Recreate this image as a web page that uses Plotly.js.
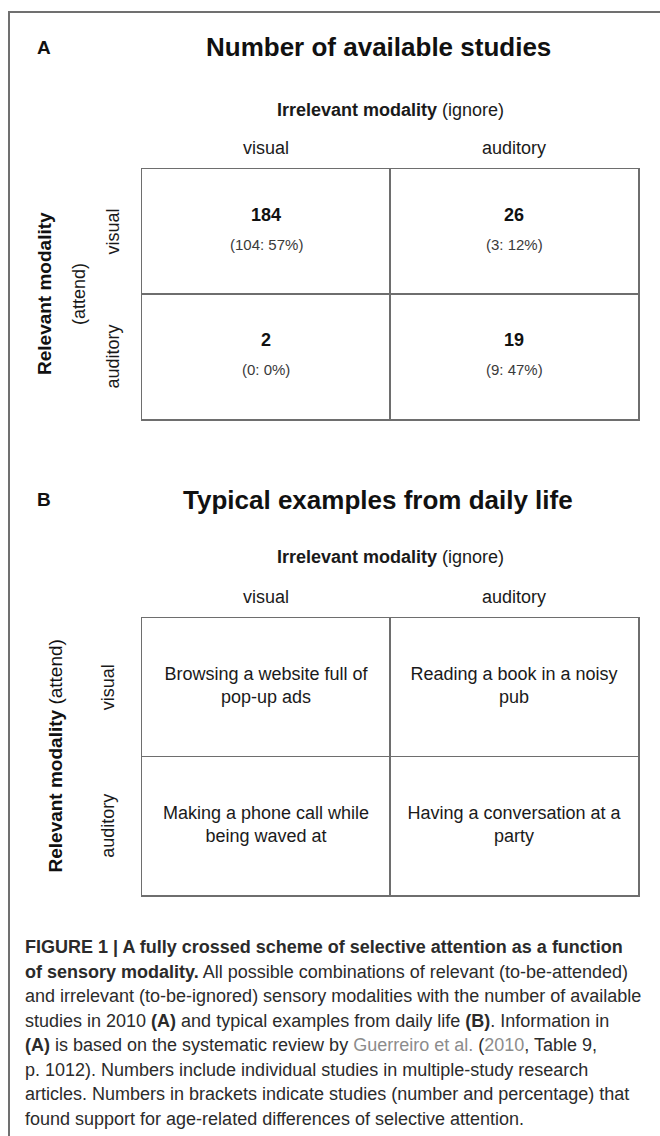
<!DOCTYPE html>
<html>
<head>
<meta charset="utf-8">
<script src="https://cdn.plot.ly/plotly-3.0.1.min.js"></script>
<style>html,body{margin:0;padding:0;background:#fff;}#chart{width:660px;height:1136px;}</style>
</head>
<body>
<div id="chart"></div>
<script>
// ---- data ----
const panelLabels = ['A', 'B'];
const panelTitles = ['Number of available studies', 'Typical examples from daily life'];
const columnAxisTitle = '<b>Irrelevant modality</b> (ignore)';
const rowAxisTitleBold = '<b>Relevant modality</b>';
const rowAxisTitleNote = '(attend)';
const modalities = ['visual', 'auditory'];           // column and row categories
const studyCounts = [[184, 26], [2, 19]];            // rows: relevant; cols: irrelevant
const supportCounts = [[104, 3], [0, 9]];
const supportPercent = [[57, 12], [0, 47]];
const dailyExamples = [
  ['Browsing a website full of<br>pop-up ads', 'Reading a book in a noisy<br>pub'],
  ['Making a phone call while<br>being waved at', 'Having a conversation at a<br>party']
];
const captionLines = [
  '<b>FIGURE 1 | A fully crossed scheme of selective attention as a function</b>',
  '<b>of sensory modality.</b> All possible combinations of relevant (to-be-attended)',
  'and irrelevant (to-be-ignored) sensory modalities with the number of available',
  'studies in 2010 <b>(A)</b> and typical examples from daily life <b>(B)</b>. Information in',
  '<b>(A)</b> is based on the systematic review by <span style="color:#8c8c8c">Guerreiro et al.</span> (<span style="color:#8c8c8c">2010</span>, Table 9,',
  'p. 1012). Numbers include individual studies in multiple-study research',
  'articles. Numbers in brackets indicate studies (number and percentage) that',
  'found support for age-related differences of selective attention.'
];

// ---- layout helpers ----
const W = 660, H = 1136;
const FONT = 'Liberation Sans, Arial, Helvetica, sans-serif';
const px = x => x / W;
const py = y => 1 - y / H;
const LINE = '#6e6e6e';

const panels = [
  {top: 169, bottom: 419, titleY: 47, irrY: 110, colY: 148, rmX: [45, 79], rowX: 113, twoLine: true},
  {top: 618, bottom: 895, titleY: 500, irrY: 557, colY: 597, rmX: [55], rowX: 108, twoLine: false}
];
const tableLeft = 142, tableRight = 638;

const layout = {
  width: W, height: H,
  margin: {l: 0, r: 0, t: 0, b: 0},
  paper_bgcolor: '#fff', plot_bgcolor: '#fff',
  showlegend: false,
  font: {family: FONT, color: '#1a1a1a', size: 18},
  annotations: [],
  shapes: [
    {type: 'path', xref: 'paper', yref: 'paper',
     path: `M ${px(9)} 0 L ${px(9)} ${py(12)} L 1 ${py(12)}`,
     line: {color: '#707070', width: 2}}
  ]
};

const data = [];

panels.forEach((p, i) => {
  const xa = i === 0 ? 'xaxis' : 'xaxis2';
  const ya = i === 0 ? 'yaxis' : 'yaxis2';
  const xr = i === 0 ? 'x' : 'x2';
  const yr = i === 0 ? 'y' : 'y2';
  const axCommon = {
    range: [0, 2], fixedrange: true,
    tickvals: [1], showticklabels: false, ticks: '',
    showgrid: true, gridcolor: LINE, gridwidth: 1.5,
    showline: true, mirror: true, linecolor: LINE, linewidth: 1.5,
    zeroline: false
  };
  layout[xa] = Object.assign({}, axCommon, {domain: [px(tableLeft), px(tableRight)], anchor: yr});
  layout[ya] = Object.assign({}, axCommon, {domain: [py(p.bottom), py(p.top)], anchor: xr, range: [2, 0]});

  // panel letter and title
  layout.annotations.push({xref: 'paper', yref: 'paper', x: px(44), y: py(p.titleY), text: '<b>' + panelLabels[i] + '</b>',
    showarrow: false, xanchor: 'center', yanchor: 'middle', font: {size: 19, color: '#111'}});
  layout.annotations.push({xref: 'paper', yref: 'paper', x: px(378), y: py(p.titleY), text: '<b>' + panelTitles[i] + '</b>',
    showarrow: false, xanchor: 'center', yanchor: 'middle', font: {size: 26, color: '#111'}});
  // column axis title
  layout.annotations.push({xref: 'paper', yref: 'paper', x: px(390), y: py(p.irrY), text: columnAxisTitle,
    showarrow: false, xanchor: 'center', yanchor: 'middle', font: {size: 18, color: '#1a1a1a'}});
  // column headers
  modalities.forEach((m, c) => {
    layout.annotations.push({xref: xr, yref: 'paper', x: c + 0.5, y: py(p.colY), text: m,
      showarrow: false, xanchor: 'center', yanchor: 'middle', font: {size: 18, color: '#1a1a1a'}});
  });
  // row headers
  modalities.forEach((m, r) => {
    layout.annotations.push({xref: 'paper', yref: yr, x: px(p.rowX), y: r + 0.5, text: m, textangle: -90,
      showarrow: false, xanchor: 'center', yanchor: 'middle', font: {size: 18, color: '#1a1a1a'}});
  });
  // row axis title
  if (p.twoLine) {
    layout.annotations.push({xref: 'paper', yref: yr, x: px(p.rmX[0]), y: 1, text: rowAxisTitleBold, textangle: -90,
      showarrow: false, xanchor: 'center', yanchor: 'middle', font: {size: 19, color: '#111'}});
    layout.annotations.push({xref: 'paper', yref: yr, x: px(p.rmX[1]), y: 1, text: rowAxisTitleNote, textangle: -90,
      showarrow: false, xanchor: 'center', yanchor: 'middle', font: {size: 18, color: '#1a1a1a'}});
  } else {
    layout.annotations.push({xref: 'paper', yref: yr, x: px(p.rmX[0]), y: 1, text: rowAxisTitleBold + ' ' + rowAxisTitleNote, textangle: -90,
      showarrow: false, xanchor: 'center', yanchor: 'middle', font: {size: 19, color: '#111'}});
  }
});

// Panel A cell contents
modalities.forEach((rm, r) => {
  modalities.forEach((cm, c) => {
    layout.annotations.push({xref: 'x', yref: 'y', x: c + 0.5, y: r + 0.5, yshift: 16,
      text: '<b>' + studyCounts[r][c] + '</b>', showarrow: false, font: {size: 18, color: '#111'}});
    layout.annotations.push({xref: 'x', yref: 'y', x: c + 0.5, y: r + 0.5, yshift: -13,
      text: '(' + supportCounts[r][c] + ': ' + supportPercent[r][c] + '%)', showarrow: false, font: {size: 15, color: '#3a3a3a'}});
  });
});

// Panel B cell contents
const bx = [], by = [], bt = [];
modalities.forEach((rm, r) => {
  modalities.forEach((cm, c) => {
    bx.push(c + 0.5); by.push(r + 0.5); bt.push(dailyExamples[r][c]);
  });
});
data.push({type: 'scatter', mode: 'text', x: bx, y: by, text: bt, xaxis: 'x2', yaxis: 'y2',
  textposition: 'middle center', textfont: {size: 18, color: '#1a1a1a', family: FONT}, hoverinfo: 'skip'});
// invisible anchor trace for panel A axes
data.push({type: 'scatter', mode: 'markers', x: [0.5], y: [0.5], xaxis: 'x', yaxis: 'y',
  marker: {opacity: 0}, hoverinfo: 'skip'});

// caption
captionLines.forEach((t, k) => {
  layout.annotations.push({xref: 'paper', yref: 'paper', x: px(23), y: py(947 + k * 24.5), text: t,
    showarrow: false, xanchor: 'left', yanchor: 'middle', align: 'left', font: {size: 18, color: '#2b2b2b'}});
});

Plotly.newPlot('chart', data, layout, {displayModeBar: false, staticPlot: true});
</script>
</body>
</html>
